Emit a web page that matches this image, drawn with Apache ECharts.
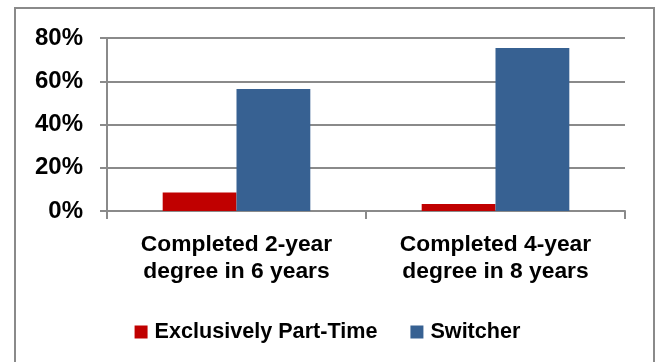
<!DOCTYPE html>
<html>
<head>
<meta charset="utf-8">
<script src="https://cdn.jsdelivr.net/npm/echarts@6/dist/echarts.min.js"></script>
<style>
  html, body { margin: 0; padding: 0; background: #fff; }
  #chart { width: 655px; height: 362px; }
</style>
</head>
<body>
<div id="chart"></div>
<script>
// Degree completion rates by enrollment pattern
const categories = ['Completed 2-year\ndegree in 6 years', 'Completed 4-year\ndegree in 8 years'];
const seriesNames = ['Exclusively Part-Time', 'Switcher'];
const partTime = [8.5, 3.2];
const switcher = [56.4, 75.4];
const yTicks = [0, 20, 40, 60, 80];

const FONT = 'Liberation Sans';
const GRAY = '#8a8a8a';

const chart = echarts.init(document.getElementById('chart'), null, { renderer: 'canvas' });

chart.setOption({
  animation: false,
  backgroundColor: '#fff',
  textStyle: { fontFamily: FONT },
  graphic: [{
    type: 'rect',
    shape: { x: 15, y: 8, width: 639, height: 370 },
    style: { fill: 'none', stroke: GRAY, lineWidth: 2 },
    silent: true
  }],
  grid: { left: 107, right: 30, top: 38, bottom: 151 },
  legend: {
    bottom: 14,
    left: 'center',
    itemWidth: 13,
    itemHeight: 13,
    itemGap: 33,
    icon: 'rect',
    textStyle: { fontFamily: FONT, fontSize: 21.6, fontWeight: 'bold', color: '#000', padding: [0, 0, 0, 2] },
    data: seriesNames
  },
  xAxis: {
    type: 'category',
    data: categories,
    axisLine: { lineStyle: { color: GRAY, width: 2 } },
    axisTick: { show: true, length: 8, lineStyle: { color: GRAY, width: 2 } },
    axisLabel: {
      margin: 20,
      fontFamily: FONT, fontSize: 22.8, fontWeight: 'bold', color: '#000',
      lineHeight: 27
    }
  },
  yAxis: {
    type: 'value',
    min: 0,
    max: 80,
    interval: 20,
    axisLine: { show: true, lineStyle: { color: GRAY, width: 2 } },
    axisTick: { show: true, length: 7, lineStyle: { color: GRAY, width: 2 } },
    splitLine: { lineStyle: { color: GRAY, width: 2 } },
    axisLabel: {
      margin: 24,
      fontFamily: FONT, fontSize: 24, fontWeight: 'bold', color: '#000',
      formatter: v => yTicks.includes(v) ? v + '%' : ''
    }
  },
  series: [
    {
      name: seriesNames[0],
      type: 'bar',
      data: partTime,
      barGap: '0%',
      barCategoryGap: '43%',
      itemStyle: { color: '#c00000' }
    },
    {
      name: seriesNames[1],
      type: 'bar',
      data: switcher,
      barGap: '0%',
      barCategoryGap: '43%',
      itemStyle: { color: '#376192' }
    }
  ]
});
</script>
</body>
</html>
